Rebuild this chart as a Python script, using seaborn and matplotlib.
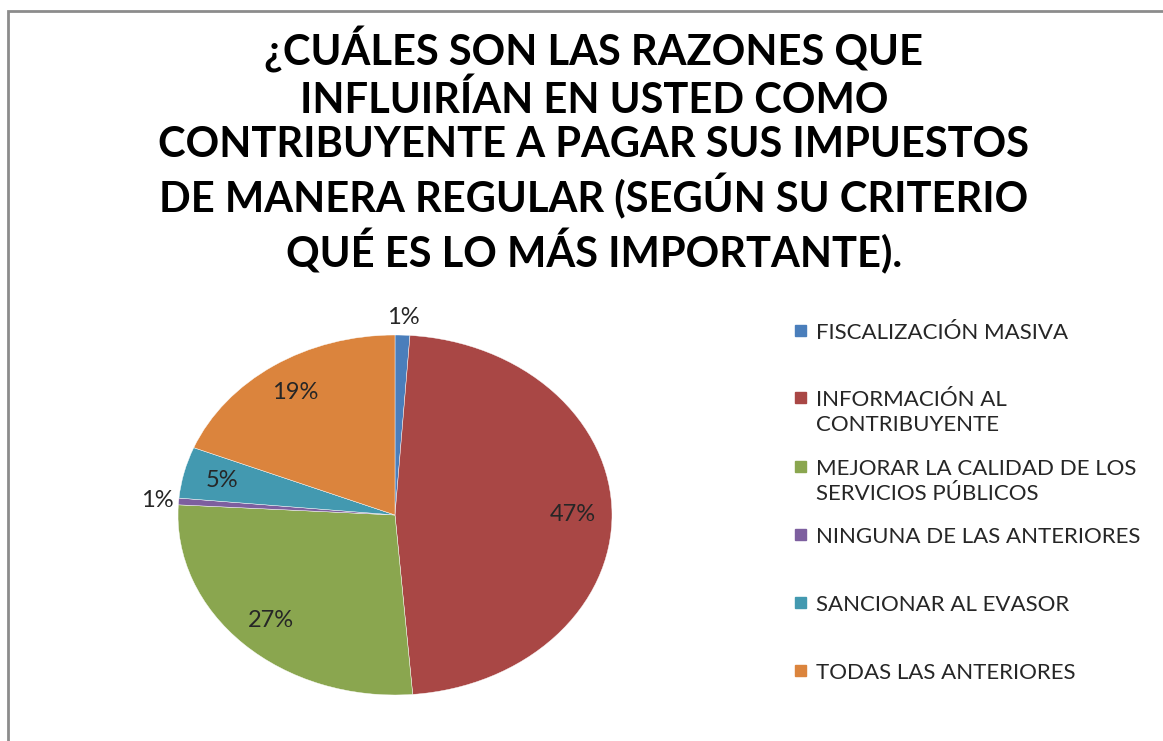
import numpy as np
import matplotlib.pyplot as plt
import matplotlib.patches as mpatches
import seaborn as sns

sns.set_theme(style="white")
plt.rcParams['font.family'] = ['Lato', 'DejaVu Sans']

categorias = ["FISCALIZACIÓN MASIVA",
              "INFORMACIÓN AL\nCONTRIBUYENTE",
              "MEJORAR LA CALIDAD DE LOS\nSERVICIOS PÚBLICOS",
              "NINGUNA DE LAS ANTERIORES",
              "SANCIONAR AL EVASOR",
              "TODAS LAS ANTERIORES"]
valores = [1.1, 47.6, 27.2, 0.6, 4.6, 18.9]
etiquetas = ["1%", "47%", "27%", "1%", "5%", "19%"]
colores = ["#4a7ebb", "#a94745", "#8aa64f", "#7d5f9f", "#4399b0", "#db843d"]

titulo = ("¿CUÁLES SON LAS RAZONES QUE\n"
          "INFLUIRÍAN EN USTED COMO\n"
          "CONTRIBUYENTE A PAGAR SUS IMPUESTOS\n"
          "DE MANERA REGULAR (SEGÚN SU CRITERIO\n"
          "QUÉ ES LO MÁS IMPORTANTE).")

W, H = 1163, 741
fig = plt.figure(figsize=(W / 100, H / 100), dpi=100)

# frame of the chart area
fig.patches.append(mpatches.Rectangle((8 / W, -0.1), 1.2, (H - 11) / H + 0.1,
                                      transform=fig.transFigure, fill=False,
                                      edgecolor="#8c8c8c", linewidth=2))

fig.text(594 / W, 1 - 150 / H, titulo, ha="center", va="center",
         fontsize=30, fontweight="bold", color="black", linespacing=1.22)

# elliptical pie, as in the original
ax = fig.add_axes([178 / W, 46 / H, 434 / W, 360 / H])
wedges, _ = ax.pie(valores, colors=colores, startangle=90, counterclock=False,
                   wedgeprops=dict(linewidth=0.3, edgecolor="white"))
ax.set_aspect("auto")
ax.set_xlim(-1, 1)
ax.set_ylim(-1, 1)

for w, lab, v in zip(wedges, etiquetas, valores):
    ang = np.deg2rad((w.theta1 + w.theta2) / 2)
    r = 0.82 if v > 3 else 1.1
    ax.text(r * np.cos(ang), r * np.sin(ang), lab, ha="center", va="center",
            fontsize=17, color="#262626")

# legend
ys = [331, 398, 467, 535, 603, 671]
for y, c, cat in zip(ys, colores, categorias):
    fig.patches.append(mpatches.Rectangle((795 / W, 1 - (y + 5) / H), 11 / W, 11 / H,
                                          transform=fig.transFigure, color=c))
    fig.text(816 / W, 1 - (y - 8) / H, cat, ha="left", va="top",
             fontsize=16, color="#262626", linespacing=1.32)

fig.savefig("out.png", dpi=100)
